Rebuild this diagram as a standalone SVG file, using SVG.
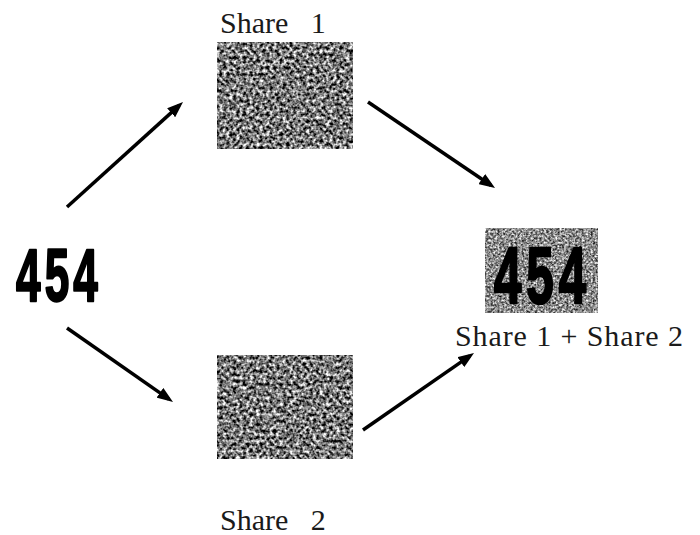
<svg xmlns="http://www.w3.org/2000/svg" width="700" height="535" viewBox="0 0 700 535">
  <style>
    .label { font-family: "Liberation Serif", "Times New Roman", serif; font-size: 30px; fill: #1a1a1a; white-space: pre; }
    .digits { font-family: "Liberation Sans", Arial, sans-serif; font-weight: bold; fill: #000; stroke: #000; stroke-width: 2.4; stroke-linejoin: round; }
    .link { fill: none; stroke: #000; stroke-width: 3.5; marker-end: url(#head); }
  </style>
  <defs>
    <!-- grey speckle texture for the share images -->
    <filter id="speckle" x="0" y="0" width="100%" height="100%" color-interpolation-filters="sRGB">
      <feTurbulence type="fractalNoise" baseFrequency="0.3" numOctaves="2" seed="7" result="n"/>
      <feColorMatrix in="n" type="matrix" values="1 0 0 0 0  1 0 0 0 0  1 0 0 0 0  0 0 0 0 1" result="g"/>
      <feComponentTransfer in="g" result="c">
        <feFuncR type="linear" slope="2.1" intercept="-0.58"/>
        <feFuncG type="linear" slope="2.1" intercept="-0.58"/>
        <feFuncB type="linear" slope="2.1" intercept="-0.58"/>
      </feComponentTransfer>
      <feGaussianBlur in="c" stdDeviation="0.5"/>
    </filter>
    <!-- softer speckle for the stacked result -->
    <filter id="speckleSoft" x="0" y="0" width="100%" height="100%" color-interpolation-filters="sRGB">
      <feTurbulence type="fractalNoise" baseFrequency="0.45" numOctaves="2" seed="11" result="n"/>
      <feColorMatrix in="n" type="matrix" values="1 0 0 0 0  1 0 0 0 0  1 0 0 0 0  0 0 0 0 1" result="g"/>
      <feComponentTransfer in="g">
        <feFuncR type="linear" slope="1.5" intercept="-0.2"/>
        <feFuncG type="linear" slope="1.5" intercept="-0.2"/>
        <feFuncB type="linear" slope="1.5" intercept="-0.2"/>
      </feComponentTransfer>
    </filter>
    <marker id="head" viewBox="0 0 16 12" refX="11" refY="6" markerWidth="16" markerHeight="12" markerUnits="userSpaceOnUse" orient="auto">
      <path d="M0,0 L16,6 L0,12 Z" fill="#000"/>
    </marker>
  </defs>

  <!-- secret image -->
  <g id="secret">
    <text class="digits" x="16" y="301" font-size="74" textLength="86" lengthAdjust="spacingAndGlyphs" letter-spacing="7">454</text>
  </g>

  <!-- first share -->
  <g id="share1">
    <text class="label" x="220" y="33">Share   1</text>
    <rect x="217" y="42" width="136" height="107" fill="#808080" filter="url(#speckle)"/>
  </g>

  <!-- second share -->
  <g id="share2">
    <rect x="217" y="355" width="136" height="104" fill="#808080" filter="url(#speckle)"/>
    <text class="label" x="220" y="530">Share   2</text>
  </g>

  <!-- stacked result -->
  <g id="result">
    <rect x="485" y="228" width="113" height="85" fill="#888" filter="url(#speckleSoft)"/>
    <text class="digits" x="494" y="303" font-size="80" textLength="97" lengthAdjust="spacingAndGlyphs" letter-spacing="8" fill="#141414" stroke="#141414" stroke-width="2">454</text>
    <text class="label" x="455" y="346" textLength="228" lengthAdjust="spacing">Share 1 + Share 2</text>
  </g>

  <!-- connectors -->
  <g id="connectors">
    <line class="link" x1="67" y1="207" x2="179.3" y2="105.4"/>
    <line class="link" x1="368" y1="102" x2="490.9" y2="185.2"/>
    <line class="link" x1="67" y1="328" x2="168.9" y2="399.1"/>
    <line class="link" x1="363" y1="430" x2="469.9" y2="355.9"/>
  </g>
</svg>
